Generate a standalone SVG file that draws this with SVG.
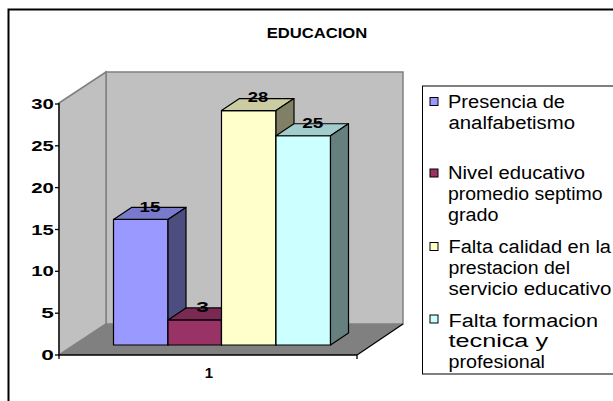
<svg xmlns="http://www.w3.org/2000/svg" width="613" height="401" viewBox="0 0 613 401">
<style>
.ax{font-family:"Liberation Sans",Arial,sans-serif;font-weight:bold;font-size:15px;fill:#000}
.lg{font-family:"Liberation Sans",Arial,sans-serif;font-size:18px;fill:#000}
.bar{stroke:#000;stroke-width:1.2;stroke-linejoin:round}
.sw{fill:#000;stroke:#000;stroke-width:1}
</style>
<rect width="613" height="401" fill="#fff"/>
<rect x="8.5" y="9.5" width="630" height="420" fill="none" stroke="#000" stroke-width="2"/>
<text class="ax" x="266.7" y="37.7" textLength="100.6" lengthAdjust="spacingAndGlyphs" style="font-size:15.5px">EDUCACION</text>
<g id="plot">
<polygon points="106,72 403,72 403,324 106,324" fill="#c0c0c0" stroke="#808080" stroke-width="1.5"/>
<polygon points="59,103 106,72 106,324 59,355" fill="#c0c0c0" stroke="#808080" stroke-width="1.5"/>
<polygon points="59,355 106,324 403,324 357,355" fill="#808080"/>
<polyline points="357,359 357,355 403,324" fill="none" stroke="#000" stroke-width="1.3"/>
</g>
<g id="axis" stroke="#000" stroke-width="1.3">
<line x1="59" y1="103" x2="59" y2="359"/>
<line x1="59" y1="355" x2="357" y2="355"/>
<line x1="55" y1="355" x2="59" y2="355"/>
<line x1="55" y1="313.2" x2="59" y2="313.2"/>
<line x1="55" y1="271.3" x2="59" y2="271.3"/>
<line x1="55" y1="229.5" x2="59" y2="229.5"/>
<line x1="55" y1="187.6" x2="59" y2="187.6"/>
<line x1="55" y1="145.8" x2="59" y2="145.8"/>
<line x1="55" y1="104" x2="59" y2="104"/>
</g>
<g id="axis-labels">
<text class="ax" x="41.2" y="360" textLength="12.6" lengthAdjust="spacingAndGlyphs">0</text>
<text class="ax" x="41.2" y="318.2" textLength="12.6" lengthAdjust="spacingAndGlyphs">5</text>
<text class="ax" x="31.2" y="276.3" textLength="22.6" lengthAdjust="spacingAndGlyphs">10</text>
<text class="ax" x="31.2" y="234.5" textLength="22.6" lengthAdjust="spacingAndGlyphs">15</text>
<text class="ax" x="31.2" y="192.6" textLength="22.6" lengthAdjust="spacingAndGlyphs">20</text>
<text class="ax" x="31.2" y="150.8" textLength="22.6" lengthAdjust="spacingAndGlyphs">25</text>
<text class="ax" x="31.2" y="109" textLength="22.6" lengthAdjust="spacingAndGlyphs">30</text>
<text class="ax" x="209" y="378.3" text-anchor="middle">1</text>
</g>
<g id="bar-presencia" class="bar">
<rect x="113.5" y="219.4" width="54.5" height="125.6" fill="#9999ff"/>
<polygon points="113.5,219.4 131.5,207.4 186,207.4 168,219.4" fill="#7a7acc"/>
<polygon points="168,219.4 186,207.4 186,333 168,345" fill="#4d4d80"/>
</g>
<g id="bar-nivel" class="bar">
<rect x="168" y="319.9" width="53.5" height="25.1" fill="#993366"/>
<polygon points="168,319.9 186,307.9 239.5,307.9 221.5,319.9" fill="#7a2952"/>
<polygon points="221.5,319.9 239.5,307.9 239.5,333 221.5,345" fill="#4d1a33"/>
</g>
<g id="bar-calidad" class="bar">
<rect x="221.5" y="110.6" width="54.5" height="234.4" fill="#ffffcc"/>
<polygon points="221.5,110.6 239.5,98.6 294,98.6 276,110.6" fill="#cccca3"/>
<polygon points="276,110.6 294,98.6 294,333 276,345" fill="#808066"/>
</g>
<g id="bar-formacion" class="bar">
<rect x="276" y="135.75" width="54.5" height="209.25" fill="#ccffff"/>
<polygon points="276,135.75 294,123.75 348.5,123.75 330.5,135.75" fill="#a3cccc"/>
<polygon points="330.5,135.75 348.5,123.75 348.5,333 330.5,345" fill="#668080"/>
</g>
<g id="data-labels">
<text class="ax" x="139.5" y="211.7" textLength="21" lengthAdjust="spacingAndGlyphs">15</text>
<text class="ax" x="196.2" y="311.7" textLength="12.6" lengthAdjust="spacingAndGlyphs">3</text>
<text class="ax" x="247.8" y="101.7" textLength="20.4" lengthAdjust="spacingAndGlyphs">28</text>
<text class="ax" x="302.2" y="127.7" textLength="21" lengthAdjust="spacingAndGlyphs">25</text>
</g>
<g id="legend">
<rect x="422.5" y="86" width="220" height="288" fill="#fff" stroke="#000" stroke-width="1"/>
<rect x="430" y="97.5" width="8" height="8" fill="#9999ff" stroke="#000" stroke-width="1"/>
<text class="lg" x="448" y="108.3" textLength="117" lengthAdjust="spacingAndGlyphs">Presencia de</text>
<text class="lg" x="448.5" y="129.3" textLength="126.5" lengthAdjust="spacingAndGlyphs">analfabetismo</text>
<rect x="430" y="169" width="8" height="8" fill="#993366" stroke="#000" stroke-width="1"/>
<text class="lg" x="448" y="179.3" textLength="137" lengthAdjust="spacingAndGlyphs">Nivel educativo</text>
<text class="lg" x="448" y="200" textLength="154.5" lengthAdjust="spacingAndGlyphs">promedio septimo</text>
<text class="lg" x="448" y="220.5" textLength="50.5" lengthAdjust="spacingAndGlyphs">grado</text>
<rect x="430" y="242.5" width="8" height="8" fill="#ffffcc" stroke="#000" stroke-width="1"/>
<text class="lg" x="448.5" y="253.3" textLength="162.5" lengthAdjust="spacingAndGlyphs">Falta calidad en la</text>
<text class="lg" x="448.5" y="274.3" textLength="121.5" lengthAdjust="spacingAndGlyphs">prestacion del</text>
<text class="lg" x="448.5" y="295" textLength="163" lengthAdjust="spacingAndGlyphs">servicio educativo</text>
<rect x="430" y="315" width="8" height="8" fill="#ccffff" stroke="#000" stroke-width="1"/>
<text class="lg" x="448.5" y="326.7" textLength="149.5" lengthAdjust="spacingAndGlyphs">Falta formacion</text>
<text class="lg" x="448.5" y="347.3" textLength="99.5" lengthAdjust="spacingAndGlyphs">tecnica y</text>
<text class="lg" x="448.5" y="368.3" textLength="96.5" lengthAdjust="spacingAndGlyphs">profesional</text>
</g>
</svg>
